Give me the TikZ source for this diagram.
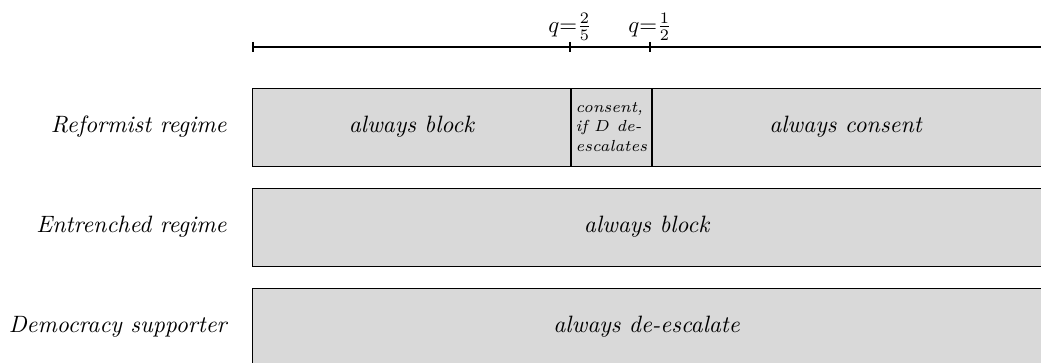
\documentclass[tikz,border=0pt]{standalone}
\usepackage{amsmath}
\usepackage{tikz}
\usetikzlibrary{positioning,calc}

\begin{document}
\begin{tikzpicture}[
    font=\fontsize{10.35}{12.4}\selectfont,
    cell/.style={draw, fill=black!15, minimum height=1.198cm, inner sep=0pt, anchor=west, align=center},
    smallcell/.style={cell, align=left, font=\fontsize{7}{8.7}\selectfont\itshape},
    player/.style={anchor=east, inner sep=0pt, font=\fontsize{10.35}{12.4}\selectfont\itshape},
    tick/.style={thick},
    qlabel/.style={anchor=south, inner sep=0.5pt}
]
    \useasboundingbox (0,0) rectangle (16,-5.579);

    % strategy axis
    \coordinate (axisL) at (3.889,-0.722);
    \coordinate (axisR) at (16.2,-0.722);
    \coordinate (qa) at (8.761,-0.722);
    \coordinate (qb) at (9.990,-0.722);
    \draw[tick] (axisL) -- (axisR);
    \foreach \p in {axisL,qa,qb}
        \draw[tick] ($(\p)+(0,0.08)$) -- ($(\p)+(0,-0.08)$);
    \node[qlabel] (qalab) at ($(qa)+(0,0.08)$) {$q{=}\frac{2}{5}$};
    \node[qlabel] (qblab) at ($(qb)+(0,0.08)$) {$q{=}\frac{1}{2}$};

    % reformist regime
    \node[cell, minimum width=4.888cm] (rblock) at (3.873,-1.952) {};
    \node[smallcell, minimum width=1.229cm] (rcond) at (rblock.east) {consent,\\ if $D$ de-\\ escalates};
    \node[cell, minimum width=6.2cm] (rconsent) at (rcond.east) {};
    \node (rblocklab) at (rblock.center) {\itshape always block};
    \node (rconsentlab) at (12.995,-1.952) {\itshape always consent};

    % entrenched regime
    \node[cell, minimum width=12.3cm] (eblock) at (3.873,-3.490) {};
    \node (eblocklab) at (9.937,-3.490) {\itshape always block};

    % democracy supporter
    \node[cell, minimum width=12.3cm, minimum height=1.4cm] (dbox) at (3.873,-5.126) {};
    \node (dboxlab) at (9.937,-5.026) {\itshape always de-escalate};

    \node[player] (reform) at (3.49,-1.952) {Reformist regime};
    \node[player] (entrench) at (3.49,-3.490) {Entrenched regime};
    \node[player] (demo) at (3.49,-5.026) {Democracy supporter};
\end{tikzpicture}
\end{document}
